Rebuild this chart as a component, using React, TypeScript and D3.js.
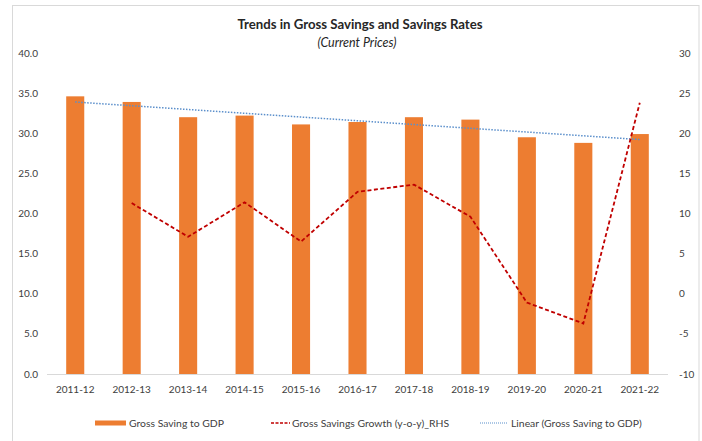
import React from "react";
import * as d3 from "d3";

const categories = ["2011-12","2012-13","2013-14","2014-15","2015-16","2016-17","2017-18","2018-19","2019-20","2020-21","2021-22"];
const savingToGdp = [34.6, 33.9, 32.0, 32.2, 31.1, 31.4, 32.0, 31.7, 29.5, 28.8, 29.9];
const savingsGrowth: (number | null)[] = [null, 11.3, 7.1, 11.4, 6.5, 12.7, 13.6, 9.6, -1.1, -3.7, 23.8];
const leftTicks = [0, 5, 10, 15, 20, 25, 30, 35, 40];
const rightTicks = [-10, -5, 0, 5, 10, 15, 20, 25, 30];
const legendLabels = ["Gross Saving to GDP", "Gross Savings Growth (y-o-y)_RHS", "Linear (Gross Saving to GDP)"];

const W = 702, H = 441;
const FONT = "Lato, 'Open Sans', sans-serif";
const TXT = "#404040";

export default function App() {
  const x = d3.scaleBand<string>().domain(categories).range([47, 668]).padding(0);
  const yL = d3.scaleLinear().domain([0, 40]).range([374, 53]);
  const yR = d3.scaleLinear().domain([-10, 30]).range([374, 53]);
  const bw = x.bandwidth() * 0.32;
  const cx = (c: string) => (x(c) as number) + x.bandwidth() / 2;

  // linear trend (least squares) of the bar series
  const n = savingToGdp.length;
  const mx = d3.mean(d3.range(n)) as number;
  const my = d3.mean(savingToGdp) as number;
  const slope = d3.sum(savingToGdp.map((v, i) => (i - mx) * (v - my))) / d3.sum(d3.range(n).map(i => (i - mx) ** 2));
  const trend = categories.map((c, i) => ({ c, v: my + slope * (i - mx) }));

  const growthLine = d3.line<{ c: string; v: number | null }>()
    .defined(d => d.v !== null)
    .x(d => cx(d.c))
    .y(d => yR(d.v as number));
  const trendLine = d3.line<{ c: string; v: number }>().x(d => cx(d.c)).y(d => yL(d.v));

  return (
    <svg width={W} height={H} style={{ position: "absolute", left: 0, top: 0, background: "#fff" }} fontFamily={FONT}>
      <rect x={0} y={0} width={W} height={H} fill="#fff" />
      <rect x={12.5} y={5.5} width={686.5} height={500} fill="none" stroke="#d9d9d9" />
      <text x={360} y={29} textAnchor="middle" fontSize={13.2} fontWeight="bold" fill="#262626">Trends in Gross Savings and Savings Rates</text>
      <text x={357} y={47} textAnchor="middle" fontSize={12.5} fontStyle="italic" fill="#262626">(Current Prices)</text>

      {leftTicks.map(t => (
        <text key={"l" + t} x={38} y={yL(t)} dy="0.35em" textAnchor="end" fontSize={10} fill={TXT}>{t.toFixed(1)}</text>
      ))}
      {rightTicks.map(t => (
        <text key={"r" + t} x={679} y={yR(t)} dy="0.35em" textAnchor="start" fontSize={10} fill={TXT}>{t}</text>
      ))}

      {categories.map((c, i) => (
        <rect key={c} x={cx(c) - bw / 2} y={yL(savingToGdp[i])} width={bw} height={yL(0) - yL(savingToGdp[i])} fill="#ED7D31" />
      ))}
      <line x1={47} x2={668} y1={374.5} y2={374.5} stroke="#d9d9d9" />
      {categories.map(c => (
        <text key={"x" + c} x={cx(c)} y={389} dy="0.35em" textAnchor="middle" fontSize={10} fill={TXT}>{c}</text>
      ))}

      <path d={trendLine(trend) as string} fill="none" stroke="#5B8FCB" strokeWidth={1.5} strokeDasharray="1.5,1.5" />
      <path d={growthLine(categories.map((c, i) => ({ c, v: savingsGrowth[i] }))) as string} fill="none" stroke="#C00000" strokeWidth={1.8} strokeDasharray="4,2.5" />

      <g fontSize={10.4} fill={TXT}>
        <rect x={95} y={420.5} width={31} height={5} fill="#ED7D31" />
        <text x={129} y={423} dy="0.35em">{legendLabels[0]}</text>
        <line x1={271} x2={290} y1={423} y2={423} stroke="#C00000" strokeWidth={1.5} strokeDasharray="3,1.5" />
        <text x={292} y={423} dy="0.35em">{legendLabels[1]}</text>
        <line x1={480} x2={508} y1={423} y2={423} stroke="#5B8FCB" strokeWidth={1.2} strokeDasharray="1,1" />
        <text x={511} y={423} dy="0.35em">{legendLabels[2]}</text>
      </g>
    </svg>
  );
}
